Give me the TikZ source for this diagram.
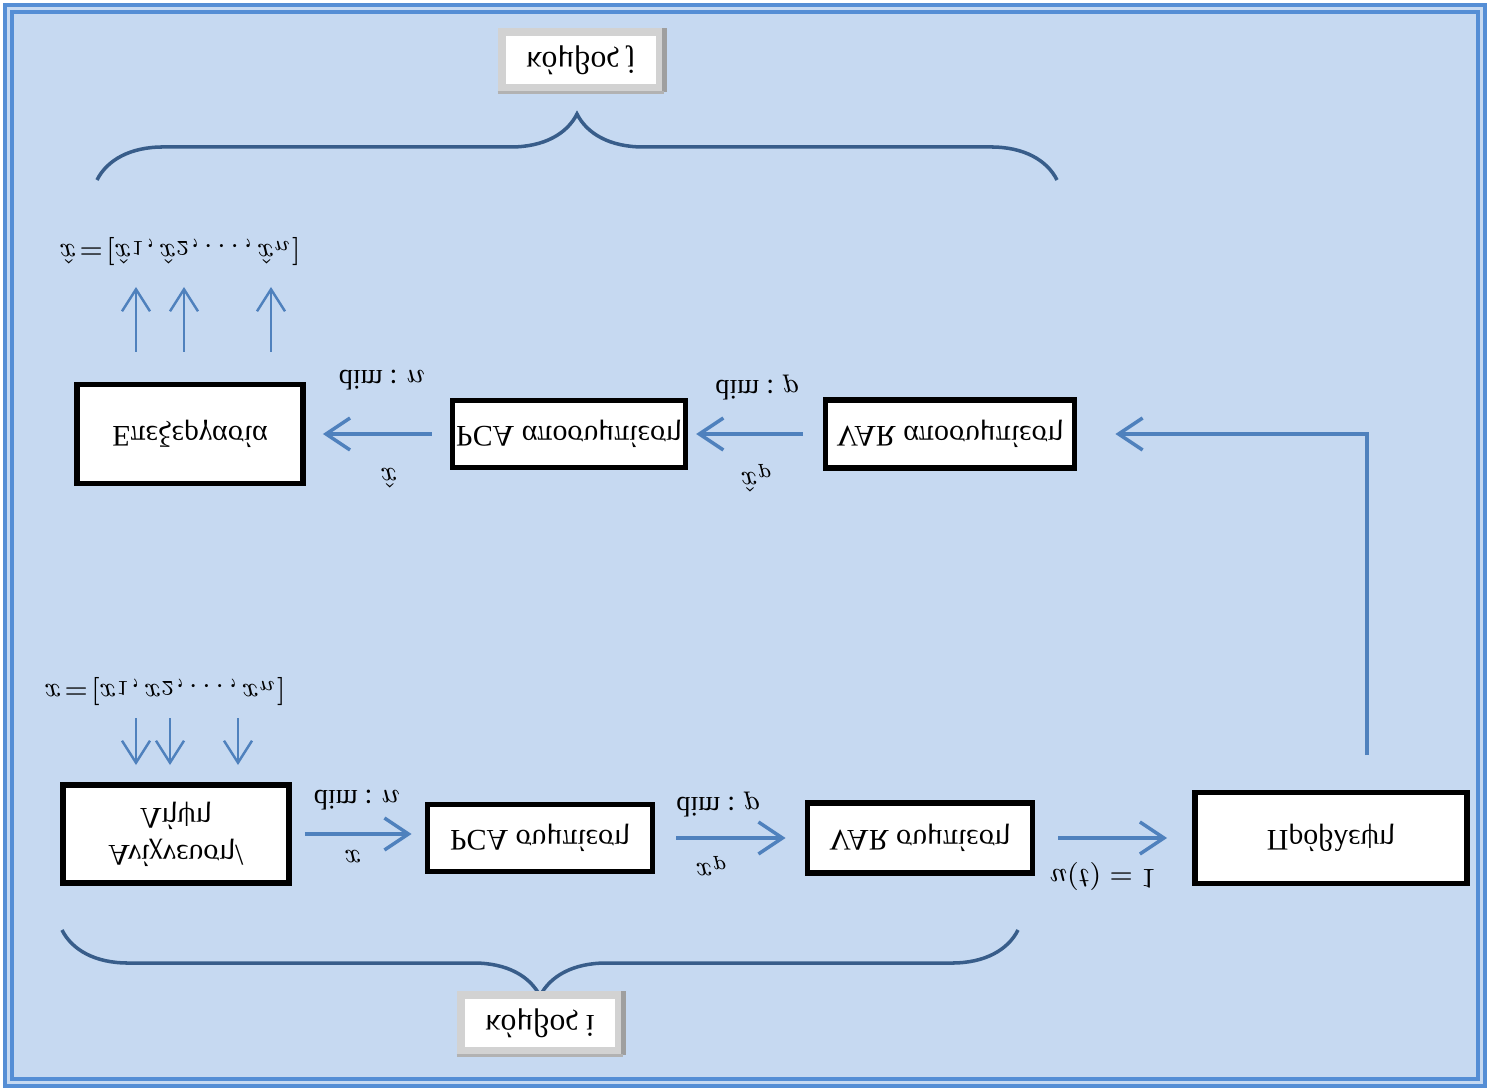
\documentclass[tikz,border=0pt]{standalone}
\usepackage{fontspec}
\setmainfont{Liberation Serif}
\usetikzlibrary{arrows.meta,decorations.pathreplacing}
\definecolor{bgblue}{HTML}{C6D9F1}
\definecolor{frameblue}{HTML}{558ED5}
\definecolor{arrblue}{HTML}{4F81BD}
\definecolor{bracecol}{HTML}{385D8A}

\begin{document}
\begin{tikzpicture}[x=0.01cm,y=0.01cm,yscale=-1,every node/.append style={transform shape}]
\tikzset{blok/.style={draw=black, line width=1.6pt, fill=white, inner sep=1pt, align=center, font=\fontsize{8.5}{10.5}\selectfont},
         kombos/.style={draw=gray!35, line width=2.5pt, fill=white, minimum width=1.58cm, minimum height=0.56cm, font=\small},
         lbl/.style={font=\fontsize{8}{10}\selectfont},
         arr/.style={draw=arrblue, line width=1pt, -{Straight Barb[length=2.4mm,width=3.2mm]}},
         thinarr/.style={draw=arrblue, line width=0.7pt, -{Straight Barb[length=2.2mm,width=2.8mm]}},
         agkyli/.style={draw=bracecol, line width=1pt, decorate, decoration={brace, amplitude=0.66cm}}}
\useasboundingbox (0,0) rectangle (1490,1091);
\fill[white] (0,0) rectangle (1490,1091);
\fill[bgblue] (4,4) rectangle (1486,1087);
\draw[frameblue, line width=0.9pt] (5,5) rectangle (1485,1086);
\draw[frameblue, line width=0.9pt] (12,12) rectangle (1478,1079);
% braces and node labels
\draw[agkyli] (97,180) -- (1057,180);
\draw[agkyli] (1018,930) -- (62,930);
\node[kombos] (kj) at (581,60) {κόμβος j};
\node[kombos] (ki) at (540,1023) {κόμβος i};
\foreach \k in {kj,ki} {
  \draw[gray!75, line width=1.5pt] (\k.north east) -- (\k.south east);
  \draw[gray!60, line width=1pt] (\k.north west) -- (\k.north east);
}
% lower row
\node[blok, minimum width=2.26cm, minimum height=0.98cm] (lipsi) at (176,834) {Ανίχνευση/\\ Λήψη};
\node[blok, minimum width=2.25cm, minimum height=0.67cm] (pcasym) at (540,838) {PCA συμπίεση};
\node[blok, minimum width=2.25cm, minimum height=0.70cm] (varsym) at (920,838) {VAR συμπίεση};
\node[blok, minimum width=2.72cm, minimum height=0.91cm] (provl) at (1331,838) {Πρόβλεψη};
% upper row
\node[blok, minimum width=2.49cm, minimum height=0.68cm] (varapo) at (950,434) {VAR αποσυμπίεση};
\node[blok, minimum width=2.32cm, minimum height=0.67cm] (pcaapo) at (569,434) {PCA αποσυμπίεση};
\node[blok, minimum width=2.26cm, minimum height=0.99cm] (epex) at (190,434) {Επεξεργασία};
% labels
\node[lbl] (dimn1) at (357,800) {dim : $n$};
\node[lbl] (x1) at (353,857) {$x$};
\node[lbl] (dimp1) at (718,805) {dim : $p$};
\node[lbl] (xp1) at (712,866) {$x_p$};
\node[lbl] (ut) at (1103,877) {$u(t) = 1$};
\node[lbl] (dimp2) at (757,388) {dim : $p$};
\node[lbl] (xhp) at (757,478) {$\hat{x}_p$};
\node[lbl] (dimn2) at (382,380) {dim : $n$};
\node[lbl] (xh) at (389,478) {$\hat{x}$};
\node[lbl] (xhvec) at (180,252) {$\hat{x}\!=\![\hat{x}_1,\hat{x}_2,\ldots,\hat{x}_n]$};
\node[lbl] (xvec) at (165,692) {$x\!=\![x_1,x_2,\ldots,x_n]$};
% connectors
\draw[arr, shorten <=0.13cm, shorten >=0.13cm] (lipsi.east) -- (lipsi.east -| pcasym.west);
\draw[arr, shorten <=0.21cm, shorten >=0.19cm] (pcasym.east) -- (pcasym.east -| varsym.west);
\draw[arr, shorten <=0.23cm, shorten >=0.25cm] (varsym.east) -- (varsym.east -| provl.west);
\coordinate (fbstart) at (1367,755);
\draw[arr] (fbstart) |- ([xshift=0.38cm]varapo.east);
\draw[arr, shorten <=0.2cm, shorten >=0.08cm] (varapo.west) -- (varapo.west -| pcaapo.east);
\draw[arr, shorten <=0.18cm, shorten >=0.17cm] (pcaapo.west) -- (pcaapo.west -| epex.east);
\foreach \px in {136,184,271} \draw[thinarr] (\px,352) -- (\px,287);
\foreach \px in {136,170,238} \draw[thinarr] (\px,718) -- (\px,765);
\end{tikzpicture}
\end{document}
